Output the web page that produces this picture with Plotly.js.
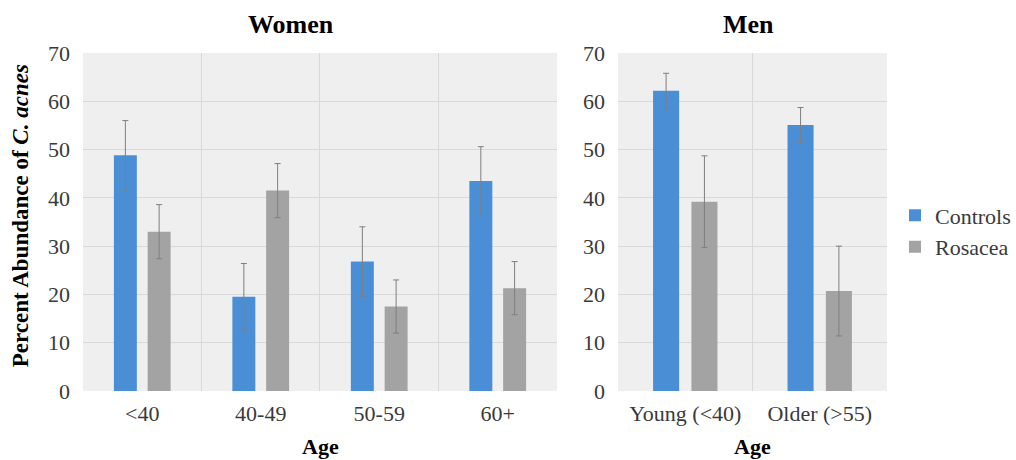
<!DOCTYPE html>
<html>
<head>
<meta charset="utf-8">
<script src="https://cdn.plot.ly/plotly-3.0.1.min.js"></script>
<style>html,body{margin:0;padding:0;background:#fff;}#chart{width:1016px;height:460px;}</style>
</head>
<body>
<div id="chart"></div>
<script>
// Women panel
const womenAges = ["<40", "40-49", "50-59", "60+"];
const womenControls = [48.8, 19.5, 26.8, 43.5];
const womenControlsErr = [7.2, 6.9, 7.2, 7.1];
const womenRosacea = [33.0, 41.5, 17.5, 21.3];
const womenRosaceaErr = [5.6, 5.6, 5.5, 5.5];

// Men panel
const menAges = ["Young (<40)", "Older (>55)"];
const menControls = [62.2, 55.1];
const menControlsErr = [3.6, 3.6];
const menRosacea = [39.2, 20.7];
const menRosaceaErr = [9.5, 9.3];

const yTicks = [0, 10, 20, 30, 40, 50, 60, 70];

const blue = "#4a8fd6";
const grey = "#a3a3a3";
const serif = "Liberation Serif";
const tickColor = "#3a3a3a";

function err(arr) {
  return {type: "data", array: arr, visible: true, color: "#7f7f7f", thickness: 1, width: 3};
}

const traces = [
  {type: "bar", name: "Controls", legendgroup: "c", x: womenAges, y: womenControls,
   error_y: err(womenControlsErr), marker: {color: blue}, xaxis: "x", yaxis: "y"},
  {type: "bar", name: "Rosacea", legendgroup: "r", x: womenAges, y: womenRosacea,
   error_y: err(womenRosaceaErr), marker: {color: grey}, xaxis: "x", yaxis: "y"},
  {type: "bar", name: "Controls", legendgroup: "c", showlegend: false, x: menAges, y: menControls,
   error_y: err(menControlsErr), marker: {color: blue}, xaxis: "x2", yaxis: "y2"},
  {type: "bar", name: "Rosacea", legendgroup: "r", showlegend: false, x: menAges, y: menRosacea,
   error_y: err(menRosaceaErr), marker: {color: grey}, xaxis: "x2", yaxis: "y2"}
];

const gridColor = "#d9d9d9";

function xax(domain) {
  return {domain: domain, type: "category", tickson: "boundaries", showgrid: true,
    gridcolor: gridColor, gridwidth: 1, ticks: "", showline: false, zeroline: false,
    tickfont: {family: serif, size: 22, color: tickColor}, ticklabelstandoff: 7, fixedrange: true};
}
function yax(anchor) {
  return {domain: [0.15, 0.8848], range: [0, 70], tickvals: yTicks, showgrid: true,
    gridcolor: gridColor, gridwidth: 1, zeroline: false, showline: false, ticks: "",
    tickfont: {family: serif, size: 22, color: tickColor}, ticklabelstandoff: 12,
    anchor: anchor, fixedrange: true};
}

const layout = {
  width: 1016, height: 460,
  margin: {l: 0, r: 0, t: 0, b: 0},
  paper_bgcolor: "#ffffff",
  plot_bgcolor: "#efefef",
  barmode: "group",
  bargap: 0.43,
  bargroupgap: 0.32,
  font: {family: serif, color: tickColor},
  xaxis: xax([0.0817, 0.5482]),
  yaxis: yax("x"),
  xaxis2: Object.assign(xax([0.6083, 0.873]), {anchor: "y2"}),
  yaxis2: yax("x2"),
  showlegend: true,
  legend: {x: 0.881, xanchor: "left", y: 0.497, yanchor: "middle",
    font: {family: serif, size: 22, color: tickColor}, bgcolor: "rgba(0,0,0,0)",
    itemwidth: 30, tracegroupgap: 0},
  annotations: [
    {text: "<b>Women</b>", xref: "paper", yref: "paper", x: 0.2864, y: 0.9457,
     xanchor: "center", yanchor: "middle", showarrow: false,
     font: {family: serif, size: 26, color: "#000000"}},
    {text: "<b>Men</b>", xref: "paper", yref: "paper", x: 0.7372, y: 0.9457,
     xanchor: "center", yanchor: "middle", showarrow: false,
     font: {family: serif, size: 26, color: "#000000"}},
    {text: "<b>Age</b>", xref: "paper", yref: "paper", x: 0.315, y: 0.03,
     xanchor: "center", yanchor: "middle", showarrow: false,
     font: {family: serif, size: 22, color: "#000000"}},
    {text: "<b>Age</b>", xref: "paper", yref: "paper", x: 0.7402, y: 0.03,
     xanchor: "center", yanchor: "middle", showarrow: false,
     font: {family: serif, size: 22, color: "#000000"}},
    {text: "<b>Percent Abundance of <i>C. acnes</i></b>", xref: "paper", yref: "paper",
     x: 0.0197, y: 0.53, xanchor: "center", yanchor: "middle", textangle: -90, showarrow: false,
     font: {family: serif, size: 23, color: "#000000"}}
  ]
};

Plotly.newPlot("chart", traces, layout, {displayModeBar: false, staticPlot: true});
</script>
</body>
</html>
